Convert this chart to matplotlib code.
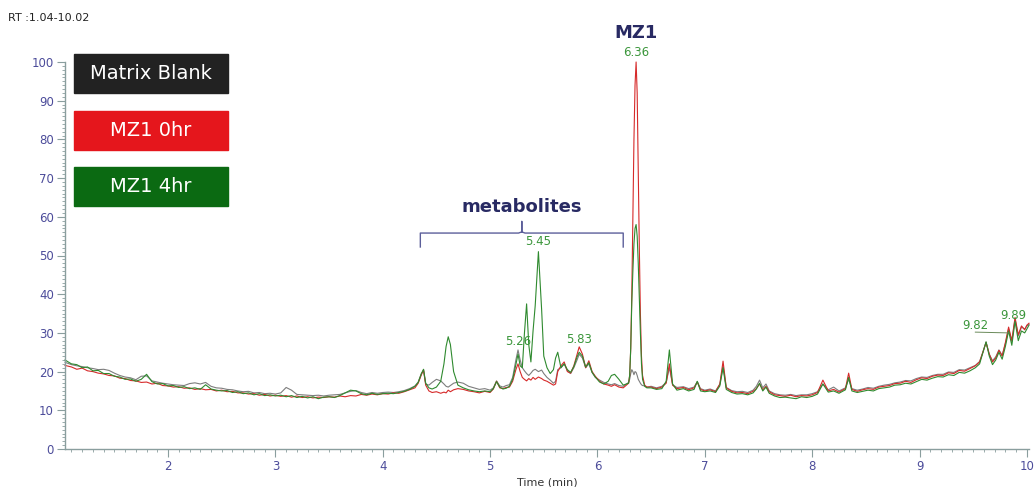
"""LC-MS TIC overlay: matrix blank vs MZ1 at 0 hr and 4 hr (RT 1.04-10.02 min)."""
import matplotlib
matplotlib.use("Agg")
import matplotlib.pyplot as plt
from matplotlib.patches import Rectangle
from matplotlib.ticker import MultipleLocator

# retention time (min)
time_min = [
    1.04, 1.10, 1.15, 1.20, 1.25, 1.30, 1.35, 1.40, 1.45, 1.50,
    1.55, 1.60, 1.65, 1.70, 1.75, 1.80, 1.85, 1.90, 1.95, 2.00,
    2.05, 2.10, 2.15, 2.20, 2.25, 2.30, 2.35, 2.40, 2.45, 2.50,
    2.55, 2.60, 2.65, 2.70, 2.75, 2.80, 2.85, 2.90, 2.95, 3.00,
    3.05, 3.10, 3.15, 3.20, 3.25, 3.30, 3.35, 3.40, 3.45, 3.50,
    3.55, 3.60, 3.65, 3.70, 3.75, 3.80, 3.85, 3.90, 3.95, 4.00,
    4.05, 4.10, 4.15, 4.20, 4.25, 4.30,
    4.33, 4.36, 4.38, 4.40, 4.43, 4.46, 4.50, 4.54, 4.57, 4.59,
    4.61, 4.63, 4.66, 4.70, 4.75, 4.80, 4.85, 4.90, 4.95, 5.00,
    5.03, 5.06, 5.09, 5.12, 5.15, 5.18, 5.21, 5.24, 5.26, 5.28,
    5.30, 5.32, 5.34, 5.36, 5.38, 5.40, 5.42, 5.45, 5.48, 5.50,
    5.53, 5.56, 5.59, 5.61, 5.63, 5.66, 5.69, 5.72, 5.75, 5.78,
    5.81, 5.83, 5.86, 5.89, 5.92, 5.95, 5.98, 6.02, 6.06, 6.10,
    6.13, 6.16, 6.20, 6.24, 6.27,
    6.29, 6.30, 6.31, 6.32, 6.33, 6.34, 6.35, 6.36, 6.37, 6.38,
    6.39, 6.40, 6.41, 6.42, 6.44, 6.46,
    6.50, 6.55, 6.60, 6.64, 6.67, 6.70, 6.74, 6.80, 6.85, 6.90,
    6.93, 6.96, 7.00, 7.05, 7.10, 7.14, 7.17, 7.20, 7.25, 7.30,
    7.35, 7.40, 7.45, 7.48, 7.51, 7.54, 7.57, 7.60, 7.65, 7.70,
    7.75, 7.80, 7.85, 7.90, 7.95, 8.00, 8.05, 8.10, 8.15, 8.20,
    8.25, 8.31, 8.34, 8.37, 8.42, 8.47, 8.52, 8.57, 8.62, 8.67,
    8.72, 8.77, 8.82, 8.87, 8.92, 8.97, 9.02, 9.07, 9.12, 9.17,
    9.22, 9.27, 9.32, 9.37, 9.42, 9.47, 9.52, 9.56, 9.59, 9.62,
    9.65, 9.68, 9.71, 9.74, 9.77, 9.80, 9.83, 9.86, 9.89, 9.92,
    9.95, 9.98, 10.00, 10.02,
]

# relative abundance (%)
blank = [
    22.4, 21.8, 21.5, 21.3, 21.0, 20.8, 20.5, 20.6, 20.3, 19.6,
    19.0, 18.6, 18.4, 17.9, 18.8, 18.9, 17.6, 17.3, 17.0, 16.8,
    16.6, 16.5, 16.4, 16.9, 17.1, 16.8, 17.2, 16.2, 15.8, 15.7,
    15.4, 15.3, 15.0, 14.8, 14.9, 14.5, 14.6, 14.3, 14.4, 14.2,
    14.5, 15.9, 15.2, 14.1, 14.0, 13.9, 13.8, 13.9, 13.7, 13.9,
    14.0, 14.1, 14.5, 14.9, 15.1, 14.6, 14.3, 14.6, 14.4, 14.6,
    14.7, 14.6, 14.8, 15.1, 15.6, 16.3,
    17.3, 19.5, 20.2, 16.8, 16.5, 17.2, 18.0, 17.6, 16.8, 16.2,
    16.0, 16.4, 17.0, 17.3, 17.0, 16.2, 15.8, 15.4, 15.6, 15.2,
    15.8, 17.6, 16.3, 16.0, 16.4, 16.6, 18.5, 23.0, 25.6, 23.0,
    21.0, 20.2, 19.5, 19.0, 19.6, 20.3, 20.6, 20.0, 20.4, 19.5,
    18.5, 17.8, 17.0, 17.5, 20.5, 21.0, 22.0, 20.2, 19.5, 21.0,
    23.0, 24.5, 23.5, 21.0, 22.0, 19.8, 18.5, 17.8, 17.2, 16.8,
    16.6, 16.9, 16.4, 16.2, 16.8,
    17.2, 18.0, 19.5, 20.5, 20.0, 19.2, 20.0, 19.8, 19.0, 18.0,
    17.5, 17.0, 16.6, 16.4, 16.3, 16.0,
    16.2, 15.8, 16.2, 17.2, 21.0, 16.6, 15.9, 16.1, 15.6, 16.0,
    17.4, 15.6, 15.2, 15.5, 15.0, 16.7, 21.5, 15.9, 15.1, 14.8,
    14.9, 14.6, 15.2, 16.2, 17.8, 15.8, 16.8, 15.0, 14.3, 14.0,
    13.9, 14.1, 13.8, 14.0, 14.0, 14.3, 14.8, 16.8, 15.3, 16.0,
    15.0, 15.8, 18.0, 15.6, 15.2, 15.5, 15.9, 15.7, 16.2, 16.5,
    16.7, 17.1, 17.3, 17.7, 17.6, 18.2, 18.6, 18.5, 19.0, 19.3,
    19.3, 19.9, 19.8, 20.5, 20.4, 21.0, 21.6, 22.6, 25.0, 27.6,
    24.5, 22.8, 23.8, 25.6, 24.2, 27.2, 31.0, 27.8, 33.6, 29.2,
    31.5, 31.0, 31.8, 32.2,
]
mz1_0hr = [
    21.6, 21.2, 20.6, 20.9, 20.2, 20.0, 19.6, 19.4, 19.0, 18.9,
    18.3, 18.2, 17.7, 17.6, 17.2, 17.3, 16.8, 17.0, 16.4, 16.3,
    16.0, 16.1, 15.7, 15.8, 15.4, 15.6, 15.3, 15.4, 15.0, 15.2,
    14.8, 14.9, 14.5, 14.5, 14.2, 14.3, 13.9, 14.1, 13.7, 13.9,
    13.6, 13.8, 13.4, 13.7, 13.3, 13.5, 13.2, 13.4, 13.3, 13.5,
    13.4, 13.7, 13.5, 13.8, 13.7, 14.1, 13.9, 14.2, 14.0, 14.3,
    14.2, 14.5, 14.4, 14.8, 15.3, 15.8,
    17.0, 19.2, 20.5, 16.5, 15.0, 14.6, 14.8, 14.4, 14.7, 14.5,
    15.2, 14.8, 15.3, 15.6, 15.4, 15.0, 14.8, 14.5, 14.9, 14.6,
    15.5, 17.5, 15.8, 15.6, 15.9, 16.0, 17.5, 20.5, 22.0, 20.0,
    18.5, 18.0, 17.6, 18.2, 17.8, 18.5, 18.0, 18.6, 18.2, 17.8,
    17.5, 17.0, 16.5, 16.8, 20.0, 21.5, 22.5, 20.0, 19.6, 21.5,
    24.5, 26.4, 24.5, 21.0, 22.8, 20.0, 18.8, 17.5, 16.8, 16.5,
    16.2, 16.6, 16.0, 15.8, 16.5,
    17.0, 19.0, 26.0, 40.0, 60.0, 80.0, 94.0, 100.0, 92.0, 72.0,
    52.0, 35.0, 24.0, 19.0, 16.5, 16.0,
    16.0, 15.6, 16.0, 17.0, 22.0, 16.5, 15.6, 15.9, 15.3, 15.8,
    17.3, 15.4, 15.0, 15.3, 14.8, 16.8, 22.7, 15.8, 14.9, 14.5,
    14.6, 14.3, 14.9, 15.6, 16.8, 15.3, 16.2, 14.8, 14.0, 13.8,
    13.6, 13.9, 13.5, 13.8, 13.7, 14.0, 14.6, 17.8, 15.0, 15.4,
    14.7, 15.6, 19.6, 15.4, 14.9, 15.3, 15.6, 15.4, 16.0, 16.2,
    16.4, 16.9, 17.0, 17.5, 17.2, 17.9, 18.4, 18.2, 18.8, 19.1,
    19.0, 19.7, 19.5, 20.3, 20.1, 20.8, 21.5, 22.5, 25.0, 27.5,
    24.5, 22.5, 23.5, 25.5, 24.0, 27.5, 31.5, 28.0, 34.0, 29.5,
    31.8, 30.8, 32.0, 32.5,
]
mz1_4hr = [
    23.0, 22.0, 21.8, 21.0, 21.2, 20.2, 20.3, 19.5, 19.5, 18.8,
    18.6, 18.0, 18.1, 17.5, 18.0, 19.3, 17.4, 16.8, 16.9, 16.3,
    16.4, 15.9, 16.1, 15.6, 15.8, 15.4, 16.6, 15.5, 15.2, 15.0,
    15.1, 14.6, 14.8, 14.3, 14.5, 14.0, 14.3, 13.8, 14.0, 13.7,
    13.9, 13.5, 13.8, 13.3, 13.6, 13.2, 13.5, 13.0, 13.4, 13.5,
    13.3, 13.8, 14.5, 15.2, 15.0, 14.3, 14.0, 14.4, 14.1, 14.3,
    14.4, 14.3, 14.6, 14.9, 15.4, 16.2,
    17.2, 19.5, 20.6, 17.0, 15.8, 15.5, 16.0, 17.5, 22.0, 26.5,
    29.0, 27.0, 20.0, 16.5, 15.8, 15.3, 15.0, 14.8, 15.0, 14.8,
    15.6, 17.4, 16.0, 15.5, 15.7, 16.2, 18.0, 21.8, 24.5, 21.5,
    21.0, 30.0, 37.5, 27.0, 22.5, 30.5, 37.0, 51.0, 36.0, 24.0,
    21.0, 19.5, 20.5, 23.5, 25.0, 21.0, 22.0, 20.5, 19.8, 21.3,
    23.8, 25.0, 24.0, 21.2, 22.3, 19.8, 18.6, 17.3, 16.8, 17.5,
    19.0, 19.3, 18.0, 16.5, 16.8,
    17.0, 19.0, 26.0, 38.0, 46.0, 53.0, 57.0, 58.0, 55.0, 48.0,
    39.0, 30.0, 22.0, 18.0, 16.2, 15.8,
    15.8, 15.4, 15.6, 17.5, 25.6, 16.8, 15.2, 15.6, 15.0, 15.4,
    17.5, 15.0, 14.8, 15.0, 14.6, 16.3, 21.0, 15.4, 14.6, 14.2,
    14.3, 14.0, 14.5, 15.5, 17.0, 15.0, 16.0, 14.4, 13.7, 13.3,
    13.4, 13.2, 13.0, 13.5, 13.3, 13.6, 14.2, 16.8, 14.7, 15.0,
    14.4, 15.3, 18.5, 15.0, 14.6, 14.9, 15.2, 15.0, 15.6, 15.8,
    16.0, 16.5, 16.6, 17.0, 16.8, 17.4, 18.0, 17.8, 18.3, 18.7,
    18.6, 19.2, 19.0, 19.8, 19.6, 20.2, 21.0, 22.0, 24.8, 27.7,
    24.0, 21.8, 23.0, 25.0, 23.2, 26.5, 30.5, 26.8, 33.0, 28.0,
    30.5, 30.0, 31.0, 32.0,
]

series_names = ["Matrix Blank", "MZ1 0hr", "MZ1 4hr"]
line_colors = ["#7d7d7d", "#d62a2a", "#2f8a2f"]
box_colors = ["#222222", "#e5161c", "#0b6a12"]

# apex labels (rt, label height %)
peak_labels = [("5.26", 5.26, 27.9), ("5.45", 5.45, 53.7), ("5.83", 5.83, 28.4),
               ("6.36", 6.36, 102.4)]
metab_start, metab_end, metab_level = 4.35, 6.24, 55.8

NAVY = "#282a63"
TICK_BLUE = "#4c4c9a"
SPINE = "#8a9e9e"
LABEL_GREEN = "#3b963b"

fig = plt.figure(figsize=(10.35, 4.87), dpi=100)
ax = fig.add_axes([65 / 1035, 38 / 487, 964 / 1035, 387 / 487])

for ys, c in zip([blank, mz1_0hr, mz1_4hr], line_colors):
    ax.plot(time_min, ys, color=c, lw=0.8, clip_on=False)

ax.set_xlim(1.04, 10.02)
ax.set_ylim(0, 100)
ax.xaxis.set_major_locator(MultipleLocator(1))
ax.xaxis.set_minor_locator(MultipleLocator(0.1))
ax.yaxis.set_major_locator(MultipleLocator(10))
ax.yaxis.set_minor_locator(MultipleLocator(1))
ax.set_xticks([2, 3, 4, 5, 6, 7, 8, 9, 10])
for s in ["top", "right"]:
    ax.spines[s].set_visible(False)
for s in ["left", "bottom"]:
    ax.spines[s].set_color(SPINE)
    ax.spines[s].set_linewidth(1.0)
ax.tick_params(which="major", length=6, color=SPINE, labelcolor=TICK_BLUE,
               labelsize=8.5, pad=2)
ax.tick_params(which="minor", length=2.5, color=SPINE)
ax.set_xlabel("Time (min)", fontsize=8, color="#333333", labelpad=3)

for txt, x, y in peak_labels:
    ax.text(x, y, txt, color=LABEL_GREEN, fontsize=8.5, ha="center", va="center")
ax.text(6.36, 107.5, "MZ1", color=NAVY, fontsize=13, fontweight="bold",
        ha="center", va="center", clip_on=False)

# 9.82 / 9.89 labels with leader line
ax.text(9.52, 32.0, "9.82", color=LABEL_GREEN, fontsize=8.5, ha="center", va="center")
ax.plot([9.52, 9.83], [30.2, 30.0], color="#6a8a5a", lw=0.7)
ax.text(9.875, 34.6, "9.89", color=LABEL_GREEN, fontsize=8.5, ha="center", va="center")

# metabolites bracket
mid = (metab_start + metab_end) / 2
ax.plot([metab_start, metab_start, mid - 0.03, mid, mid, mid, mid + 0.03, metab_end, metab_end],
        [metab_level - 3.6, metab_level, metab_level, metab_level + 0.3, metab_level + 3.0,
         metab_level + 0.3, metab_level, metab_level, metab_level - 3.6],
        color="#5c5f9a", lw=1.0)
ax.text(mid, 62.5, "metabolites", color=NAVY, fontsize=13, fontweight="bold",
        ha="center", va="center")

# legend boxes
box_tops = [54, 111, 167]
for name, c, top in zip(series_names, box_colors, box_tops):
    y0 = (487 - top - 39) / 487
    fig.patches.append(Rectangle((74 / 1035, y0), 154 / 1035, 39 / 487,
                                 transform=fig.transFigure, color=c))
    fig.text((74 + 77) / 1035, y0 + 19.5 / 487, name, color="white",
             fontsize=14, ha="center", va="center")

fig.text(8 / 1035, 1 - 18 / 487, "RT :1.04-10.02", fontsize=8, color="#222222",
         va="center")

fig.savefig("out.png", dpi=100)
